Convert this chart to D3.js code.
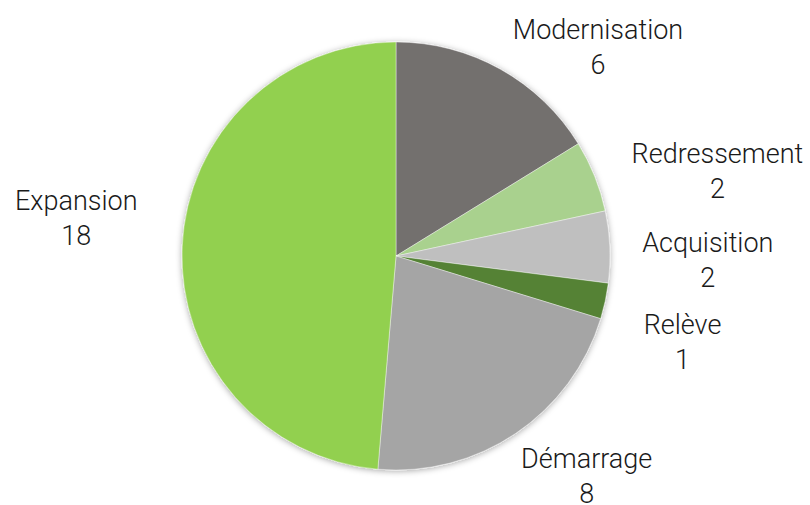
<!DOCTYPE html>
<html>
<head>
<meta charset="utf-8">
<script src="https://cdn.jsdelivr.net/npm/d3@7"></script>
<style>
  html, body { margin: 0; padding: 0; background: #fff; }
  text { font-family: Roboto, "Open Sans", sans-serif; font-weight: 300; }
</style>
</head>
<body>
<div id="chart"></div>
<script>
// slices, clockwise from 12 o'clock
const categories = ['Modernisation', 'Redressement', 'Acquisition', 'Relève', 'Démarrage', 'Expansion'];
const values     = [6, 2, 2, 1, 8, 18];
const colors     = ['#736f6e', '#a9d18e', '#bfbfbf', '#548235', '#a5a5a5', '#92d050'];

// label nudges from the arc anchor (x centre, first baseline)
const labelNudge = {
  'Modernisation': [83, -4],
  'Redressement':  [95, -2],
  'Acquisition':   [68, 6],
  'Relève':        [48, 27],
  'Démarrage':     [54, 10],
  'Expansion':     [-76, -36]
};

const width = 810, height = 505;
const cx = 396, cy = 256, r = 214;

const data = categories.map((c, i) => ({ name: c, value: values[i], color: colors[i] }));

const pie = d3.pie().value(d => d.value).sort(null);
const arc = d3.arc().innerRadius(0).outerRadius(r);
const labelArc = d3.arc().innerRadius(r + 30).outerRadius(r + 30);

const svg = d3.select('#chart').append('svg')
    .attr('width', width)
    .attr('height', height);

const defs = svg.append('defs');
const f = defs.append('filter').attr('id', 'shadow')
    .attr('x', '-20%').attr('y', '-20%').attr('width', '140%').attr('height', '140%');
f.append('feDropShadow')
    .attr('dx', 0).attr('dy', 1)
    .attr('stdDeviation', 3)
    .attr('flood-color', '#000')
    .attr('flood-opacity', 0.35);

const g = svg.append('g')
    .attr('transform', `translate(${cx},${cy})`);

const arcs = pie(data);

g.append('g')
    .attr('filter', 'url(#shadow)')
  .selectAll('path')
  .data(arcs)
  .join('path')
    .attr('d', arc)
    .attr('fill', d => d.data.color)
    .attr('stroke', '#fff')
    .attr('stroke-width', 0.4);

const labels = g.append('g')
  .selectAll('text')
  .data(arcs)
  .join('text')
    .attr('text-anchor', 'middle')
    .attr('font-size', 27)
    .attr('fill', '#1a1a1a')
    .attr('transform', d => {
      const [x, y] = labelArc.centroid(d);
      const [nx, ny] = labelNudge[d.data.name];
      return `translate(${x + nx},${y + ny})`;
    });

labels.append('tspan')
    .attr('x', 0).attr('dy', 0)
    .text(d => d.data.name);
labels.append('tspan')
    .attr('x', 0).attr('dy', 35)
    .text(d => d.data.value);
</script>
</body>
</html>
